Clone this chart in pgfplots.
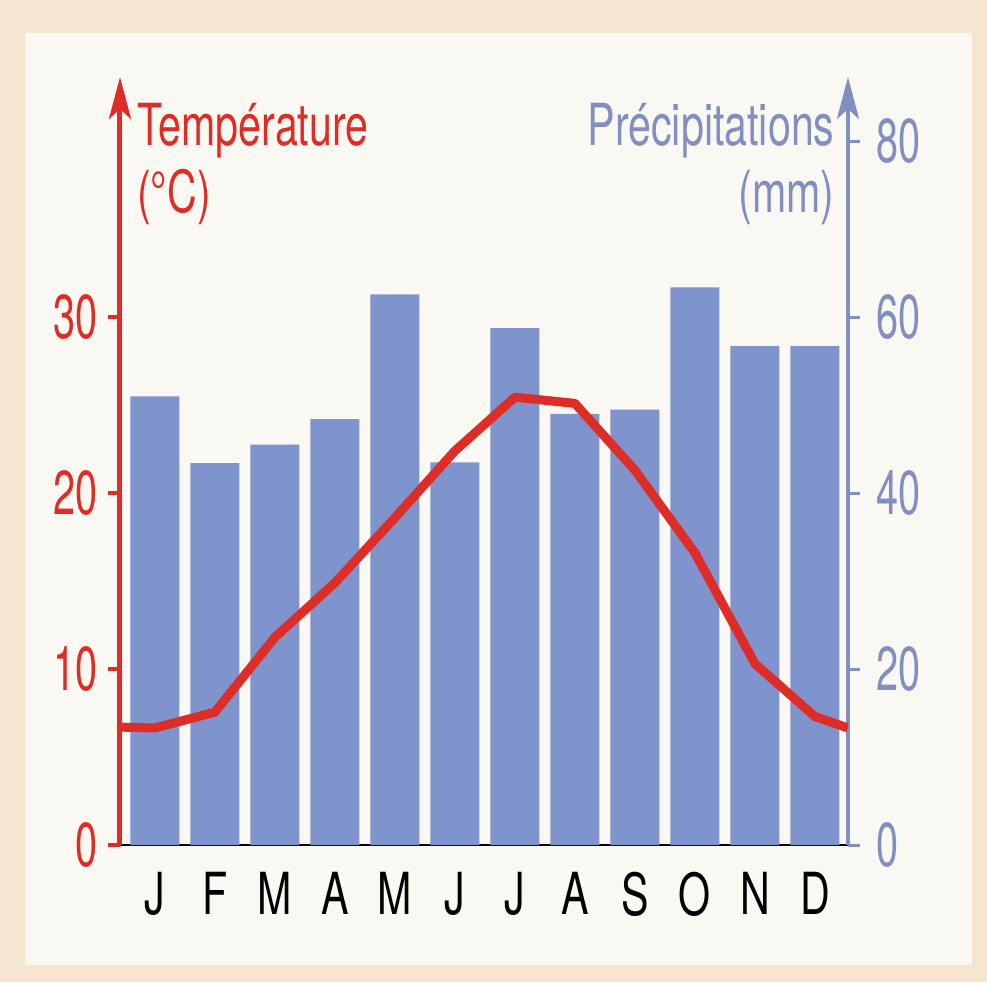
\documentclass[border=0pt]{standalone}
\usepackage{pgfplots}
\pgfplotsset{compat=1.18}
\usepackage{fontspec}
\setmainfont{TeX Gyre Heros}[FakeStretch=0.71]
\newfontfamily\tickfont{TeX Gyre Heros}[FakeStretch=0.64]
\usetikzlibrary{arrows.meta}
\definecolor{tred}{RGB}{222,45,38}
\definecolor{pblue}{RGB}{127,148,204}
\definecolor{ablue}{RGB}{128,142,192}
\definecolor{panel}{RGB}{249,248,243}
\definecolor{framec}{RGB}{246,229,206}
\newcommand{\bigf}{\fontsize{29}{34}\selectfont}
\newcommand{\tickf}{\tickfont\fontsize{31}{34}\selectfont}
\begin{document}
\begin{tikzpicture}
\fill[framec] (-60pt,-68.5pt) rectangle (433.5pt,422.5pt);
\fill[panel] (-47.5pt,-60pt) rectangle (426pt,406pt);
% precipitation axis (bars)
\begin{axis}[
  scale only axis, width=364pt, height=384pt,
  xmin=-0.58, xmax=11.55, ymin=0, ymax=87.3,
  axis x line*=bottom, axis y line*=right,
  x axis line style={black, line width=1pt, -},
  y axis line style={ablue, line width=2pt, -{Stealth[length=21pt,width=11pt,inset=5pt]}},
  xtick={0,...,11},
  xticklabels={J,F,M,A,M,J,J,A,S,O,N,D},
  x tick style={draw=none},
  xticklabel style={black, font=\bigf, yshift=-4pt},
  ytick={0,20,40,60,80},
  y tick style={ablue, line width=1.5pt},
  tick align=outside, major tick length=6pt,
  yticklabel style={ablue, font=\tickf, inner sep=2pt, xshift=6pt},
  /pgf/number format/assume math mode=true,
  clip=false,
]
\addplot[ybar, bar width=24.5pt, fill=pblue, draw=none] coordinates {
(0,51.0) (1,43.4) (2,45.5) (3,48.4) (4,62.6) (5,43.5)
(6,58.75) (7,49.0) (8,49.5) (9,63.4) (10,56.7) (11,56.7)};
\node[anchor=base east, ablue, font=\bigf, inner sep=0pt] at (axis description cs:0.982,0.911) {Précipitations};
\node[anchor=base east, ablue, font=\bigf, inner sep=0pt] at (axis description cs:0.982,0.823) {(mm)};
\end{axis}
% temperature axis (line)
\begin{axis}[
  scale only axis, width=364pt, height=384pt,
  xmin=-0.58, xmax=11.55, ymin=0, ymax=43.65,
  axis x line=none, axis y line*=left,
  y axis line style={tred, line width=2.5pt, -{Stealth[length=21pt,width=11pt,inset=5pt]}},
  ytick={0,10,20,30},
  y tick style={tred, line width=2pt},
  tick align=outside, major tick length=6pt,
  yticklabel style={tred, font=\tickf, inner sep=2pt, xshift=-3pt},
  /pgf/number format/assume math mode=true,
]
\addplot[tred, line width=4.5pt, line join=round] coordinates {
(-0.58,6.7) (0,6.65) (1,7.55) (2,11.8) (3,14.9) (4,18.6) (5,22.4)
(6,25.45) (7,25.1) (8,21.3) (9,16.6) (10,10.3) (11,7.3) (11.55,6.65)};
\node[anchor=base west, tred, font=\bigf, inner sep=0pt] at (axis description cs:0.023,0.911) {Température};
\node[anchor=base west, tred, font=\bigf, inner sep=0pt] at (axis description cs:0.023,0.823) {(°C)};
\end{axis}
\end{tikzpicture}
\end{document}
